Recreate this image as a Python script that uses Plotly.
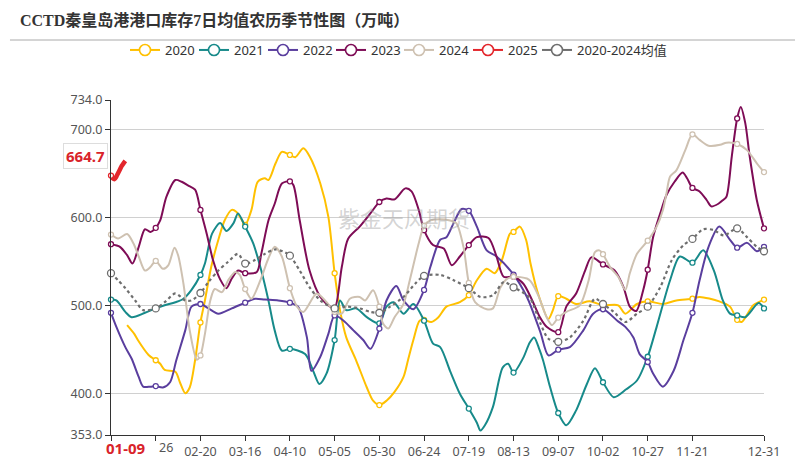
import plotly.graph_objects as go

# ---- data (day index from 01-01 on the lunar-aligned axis, value in 万吨) ----
days_2020 = [9, 13, 15, 21, 25, 27.5, 30, 36, 38.5, 41.5, 44, 47, 50, 52.5, 56, 60, 63.5, 67.5, 70, 73, 75, 78.5, 82, 86, 88, 92, 95.5, 100, 103, 107.5, 111, 117, 121.5, 125, 128, 131.5, 137, 143, 146.5, 150, 154, 158.5, 163.5, 166, 169, 172.5, 175, 179, 183, 187.5, 195, 200, 204.5, 210, 214.5, 218.5, 223, 225, 228.5, 232, 234.5, 238.5, 244.5, 247, 250, 254.5, 260, 267.5, 275, 283.5, 287.5, 294, 300, 308.5, 316, 325, 329, 340, 346, 350, 352.5, 359, 365]
vals_2020 = [478, 468, 461, 444, 438, 434, 427, 425, 413, 400.5, 407, 438, 481, 506, 544, 575, 597, 609, 607, 598, 592, 609, 641, 645, 643, 662, 675, 671.5, 669, 679, 670, 639, 601, 537, 495, 464, 438, 407, 392, 387, 392, 402, 419, 438, 461, 483, 484, 481.5, 487, 499, 504, 512, 529, 542, 537, 552, 582, 584, 590, 575, 548, 515, 485, 495, 511, 508, 502, 505, 500.5, 500.5, 491, 502, 505, 502, 506, 508, 510, 505, 499, 484, 481.5, 500.5, 507]

days_2021 = [0, 3, 8, 11.5, 19, 25, 30, 36, 40.5, 45, 50, 52.5, 56.5, 61, 64.5, 68.5, 71, 75, 79.5, 84, 88, 91.5, 95.5, 100, 108.5, 113, 116.5, 120.5, 125, 128, 131.5, 137, 143, 150, 154, 158, 163.5, 169, 175, 180, 184, 189.5, 195, 200, 204.5, 206.5, 209, 213.5, 219, 222, 225, 230.5, 234, 236.5, 239.5, 241.5, 245.5, 250, 254.5, 260, 266, 270.5, 275, 281, 288, 294, 300, 305, 312.5, 318, 325, 331, 337, 342, 346, 350, 354.5, 362, 365]
vals_2021 = [507, 506, 493, 487, 492, 497, 500.5, 504, 508, 518, 535, 548, 582, 594, 585, 594, 605, 590, 571, 540, 506, 472, 449, 451, 445, 426, 411, 423, 461, 506, 495, 497, 487, 480, 499, 504, 491, 502, 483, 457, 453, 426, 400, 383, 367, 358, 364, 385, 430, 434, 424, 441, 458, 464, 450, 438, 407, 378, 364, 381, 411, 429, 413, 396, 405, 415, 442, 476, 529, 556, 549, 563, 540, 506, 491, 489, 487, 503, 497]

days_2022 = [0, 3, 8, 11.5, 15.5, 18, 22, 25, 29, 33, 36.5, 41.5, 45, 50, 54.5, 60, 67.5, 75, 80.5, 86, 93.5, 100, 104.5, 109.5, 112, 117, 121.5, 125, 130, 135.5, 141, 145, 150, 154, 159.5, 163.5, 169, 175, 178.5, 184, 187.5, 191.5, 196, 200, 204.5, 210, 215.5, 225, 232.5, 240, 244.5, 250, 256.5, 264, 269.5, 275, 283, 287.5, 292, 295.5, 300, 303, 308.5, 314.5, 320, 325, 329, 334, 340, 346, 350, 355.5, 361, 365]
vals_2022 = [492, 476, 453, 440, 419, 408, 408, 408.6, 407, 413, 438, 472, 499, 502, 497, 491, 497, 503.5, 508, 507, 506, 503.5, 499, 464, 426, 442, 468, 489, 483, 472, 461, 451, 474, 506, 522.5, 506, 496, 518, 544, 575, 578, 594, 610, 608, 590, 563, 556, 535.5, 510, 470, 443.5, 450, 453, 472, 491, 496, 483, 476, 464, 445, 436, 423, 408, 426, 461, 492, 529, 567, 590, 575, 566, 571.5, 562, 567]

days_2023 = [0, 5, 9, 12, 15.5, 19, 22, 25, 27.5, 31, 36, 39.5, 43, 47, 50, 53.5, 57, 61, 64.5, 67.5, 71, 75, 81.5, 84, 88, 91.5, 95.5, 100, 102, 105.5, 111, 117, 122.5, 125, 129, 132.5, 139, 145, 150, 154, 158.5, 164.5, 168, 172, 175, 180, 186, 190.5, 195, 200, 204.5, 211, 215.5, 219.5, 225, 230.5, 235, 240, 243.5, 250, 254.5, 260, 265, 268.5, 275, 281.5, 286.5, 290, 293.5, 297.5, 300, 303, 307, 310.5, 315, 319.5, 322, 325, 329, 333, 335.5, 339.5, 342, 344, 347, 350, 352, 354.5, 357, 361, 365]
vals_2023 = [570, 567, 557.5, 548, 567, 587, 584, 588.6, 597, 624, 643, 641, 637, 632, 609, 582, 552, 530, 520, 531, 540, 537, 538.5, 559, 597, 616, 639, 641.5, 637, 597, 540, 510, 499, 497, 544, 576, 590, 605, 618, 622, 621, 633.5, 630, 609, 586, 569, 565, 546, 556, 569, 578, 577, 556, 533, 533, 525, 508, 486, 476, 470, 499, 514, 540, 555, 547, 540, 521, 499, 494, 518, 541, 578, 605, 626, 641, 651.5, 645, 634, 630, 620, 613, 616, 620, 624, 670, 713, 726, 708, 670, 620, 588]

days_2024 = [0, 4, 9, 12.5, 15.5, 19, 22, 25, 29, 32, 35.5, 37.5, 40.5, 44, 48, 50, 52.5, 55.5, 58, 62, 65.5, 69.5, 72, 75, 78.5, 83.5, 88, 91.5, 95.5, 100, 104, 107.5, 115, 120.5, 125, 129, 133.5, 139, 142, 146.5, 150, 152, 155, 158.5, 163.5, 167, 172, 175, 178.5, 184, 189.5, 193, 197, 200, 203.5, 210, 213.5, 217.5, 221, 225, 232.5, 234.5, 239, 243.5, 246.5, 250, 254.5, 262, 267, 270.5, 273, 275, 279, 283.5, 287.5, 290, 294, 300, 305, 308.5, 310.5, 312.5, 316, 321, 325, 329, 334, 340.5, 344, 350, 355.5, 361, 365]
vals_2024 = [581, 576.5, 581.5, 571, 556, 540, 544, 551, 542, 546, 566, 557.5, 525, 472, 438.6, 443.5, 468, 506, 519, 515.5, 529, 538.5, 535, 519, 508, 529, 554, 567, 556, 520, 499, 493, 514, 504, 493, 491, 508, 510, 506, 517.6, 499, 480, 474, 487, 502, 529, 571, 591, 597, 598.5, 597, 594, 567, 526, 504, 496, 497, 520, 530, 533, 531, 528, 511, 487, 478, 486.5, 493, 500.5, 529, 561, 563, 558.6, 544, 533, 518, 537, 559, 574, 590, 609, 628, 647, 654, 677, 695, 688.6, 682, 683, 685.5, 684, 677, 662, 652]

days_2025 = [0, 1, 2, 3, 4, 5, 6, 7, 8]
vals_2025 = [648, 645, 644, 647, 651, 655, 659, 662, 664.7]

days_avg = [0, 4, 8, 13.5, 18, 25, 30, 36, 41.5, 45, 50, 54.5, 60, 65.5, 71, 75, 80.5, 86, 91.5, 97, 100, 105.5, 111, 117, 122.5, 125, 131.5, 139, 145, 150, 156, 163.5, 170, 175, 184, 191.5, 200, 206.5, 213.5, 219.5, 225, 232.5, 235, 240, 244.5, 250, 256.5, 264, 270.5, 275, 281, 287.5, 294, 300, 307, 313.5, 320, 325, 331, 337, 342.5, 350, 355.5, 361, 365]
vals_avg = [537, 529, 520, 506, 495, 497, 504, 514, 506, 506, 514.5, 527, 540, 550, 559, 548, 552, 559, 564, 561, 557, 540, 521, 506, 499, 497, 499, 497, 493, 492, 499, 510, 525, 534, 535, 529, 520, 510, 512, 527, 521, 512, 506, 480, 462.5, 459, 464, 483, 508, 502, 493, 481.5, 491, 499, 521, 552, 569, 576, 587, 586, 580, 588, 578, 567, 562]

tick_days = [0, 25, 50, 75, 100, 125, 150, 175, 200, 225, 250, 275, 300, 325, 365]
tick_text = ["", "", "02-20", "03-16", "04-10", "05-05", "05-30", "06-24", "07-19", "08-13", "09-07", "10-02", "10-27", "11-21", "12-31"]
partial_tick_text = "26"
y_ticks = [353, 400, 500, 600, 700, 734]
latest_label = "01-09"
latest_value = 664.7
title_text = "CCTD秦皇岛港港口库存7日均值农历季节性图（万吨）"
watermark = "紫金天风期货"
marker_days = set(list(range(0, 351, 25)) + [365])

series = [
    ("2020", days_2020, vals_2020, "#FFC000", 2, "solid"),
    ("2021", days_2021, vals_2021, "#178A8A", 2, "solid"),
    ("2022", days_2022, vals_2022, "#5A3E9E", 2, "solid"),
    ("2023", days_2023, vals_2023, "#7E0C56", 2, "solid"),
    ("2024", days_2024, vals_2024, "#CEC1B1", 2, "solid"),
    ("2025", days_2025, vals_2025, "#E3262C", 4.5, "solid"),
    ("2020-2024均值", days_avg, vals_avg, "#6E6E6E", 2.2, "dot"),
]
legend_left_px = [134, 203, 272, 340, 408, 477, 546]

W, H = 806, 460
fig = go.Figure()
for name, dx, vy, col, w, dash in series:
    fig.add_trace(go.Scatter(x=dx, y=vy, mode="lines", showlegend=False,
                             line=dict(color=col, width=w, dash=dash, shape="spline", smoothing=0.8),
                             hoverinfo="skip", cliponaxis=False))
    if name == "2025":
        mx, my = [dx[0]], [vy[0]]
    else:
        mx = [d for d in dx if d in marker_days]
        my = [v for d, v in zip(dx, vy) if d in marker_days]
    msize = 7 if dash == "dot" else 5
    fig.add_trace(go.Scatter(x=mx, y=my, mode="markers", showlegend=False,
                             marker=dict(size=msize, color="white", line=dict(color=col, width=1.3)),
                             hoverinfo="skip", cliponaxis=False))

legend_layout = {}
for i, ((name, dx, vy, col, w, dash), lx) in enumerate(zip(series, legend_left_px)):
    key = "legend" if i == 0 else f"legend{i + 1}"
    fig.add_trace(go.Scatter(x=[None], y=[None], mode="lines+markers", name=name, legend=key,
                             line=dict(color=col, width=2),
                             marker=dict(size=11, color="white", line=dict(color=col, width=1.6))))
    legend_layout[key] = dict(orientation="h", xref="container", yref="container",
                              x=(lx - 9) / W, xanchor="left", y=1 - 50 / H, yanchor="middle",
                              font=dict(size=13, color="#333"), itemwidth=30,
                              bgcolor="rgba(0,0,0,0)", borderwidth=0)

fig.update_layout(
    width=W, height=H,
    margin=dict(l=111, r=42, t=100, b=25, autoexpand=False),
    paper_bgcolor="white", plot_bgcolor="white",
    font=dict(family="Noto Sans, Noto Sans CJK SC, sans-serif", size=12.5, color="#444"),
    showlegend=True,
    xaxis=dict(range=[0, 365], tickmode="array", tickvals=tick_days, ticktext=tick_text,
               showgrid=False, zeroline=False, showline=True, linecolor="#333", linewidth=1,
               ticks="outside", ticklen=5, tickcolor="#333", tickfont=dict(size=12.5, color="#555")),
    yaxis=dict(range=[353, 734], tickmode="array", tickvals=y_ticks,
               ticktext=[f"{v:.1f}" for v in y_ticks],
               showgrid=True, gridcolor="#d0d0d0", gridwidth=1, zeroline=False,
               showline=True, linecolor="#333", linewidth=1,
               ticks="outside", ticklen=5, tickcolor="#333", tickfont=dict(size=12.5, color="#555")),
    **legend_layout,
)

fig.add_annotation(text=f"<b>{title_text}</b>", xref="paper", yref="paper",
                   x=-0.142, y=1 + 80 / 335, xanchor="left", yanchor="middle", showarrow=False,
                   font=dict(family="Liberation Serif, Noto Sans CJK SC, serif", size=16, color="#333"))
fig.add_shape(type="line", xref="paper", yref="paper", x0=-0.1547, x1=1.0475, y0=1 + 60 / 335, y1=1 + 60 / 335,
              line=dict(color="#aaaaaa", width=1))
fig.add_annotation(text=watermark, xref="paper", yref="paper", x=0.449, y=0.648,
                   showarrow=False, font=dict(size=22, color="rgba(160,160,160,0.45)"))
fig.add_annotation(text=f"<b>{latest_value}</b>", xref="paper", yref="y", x=0, y=latest_value,
                   xanchor="right", yanchor="middle", xshift=-3, yshift=5, showarrow=False,
                   bgcolor="white", bordercolor="#dddddd", borderwidth=1, borderpad=2,
                   font=dict(size=15, color="#D9232A"))
fig.add_annotation(text=f"<b>{latest_label}</b>", xref="paper", yref="paper", x=0, y=-13 / 335,
                   xanchor="left", yanchor="middle", xshift=-7, showarrow=False,
                   font=dict(size=15, color="#D9232A"))
fig.add_annotation(text=partial_tick_text, xref="x", yref="paper", x=25, y=-12 / 335,
                   xanchor="center", yanchor="middle", xshift=10, showarrow=False,
                   font=dict(size=12.5, color="#555"))

fig.write_html("out.html", config={"displayModeBar": False},
               post_script="document.body.style.margin='0';")
